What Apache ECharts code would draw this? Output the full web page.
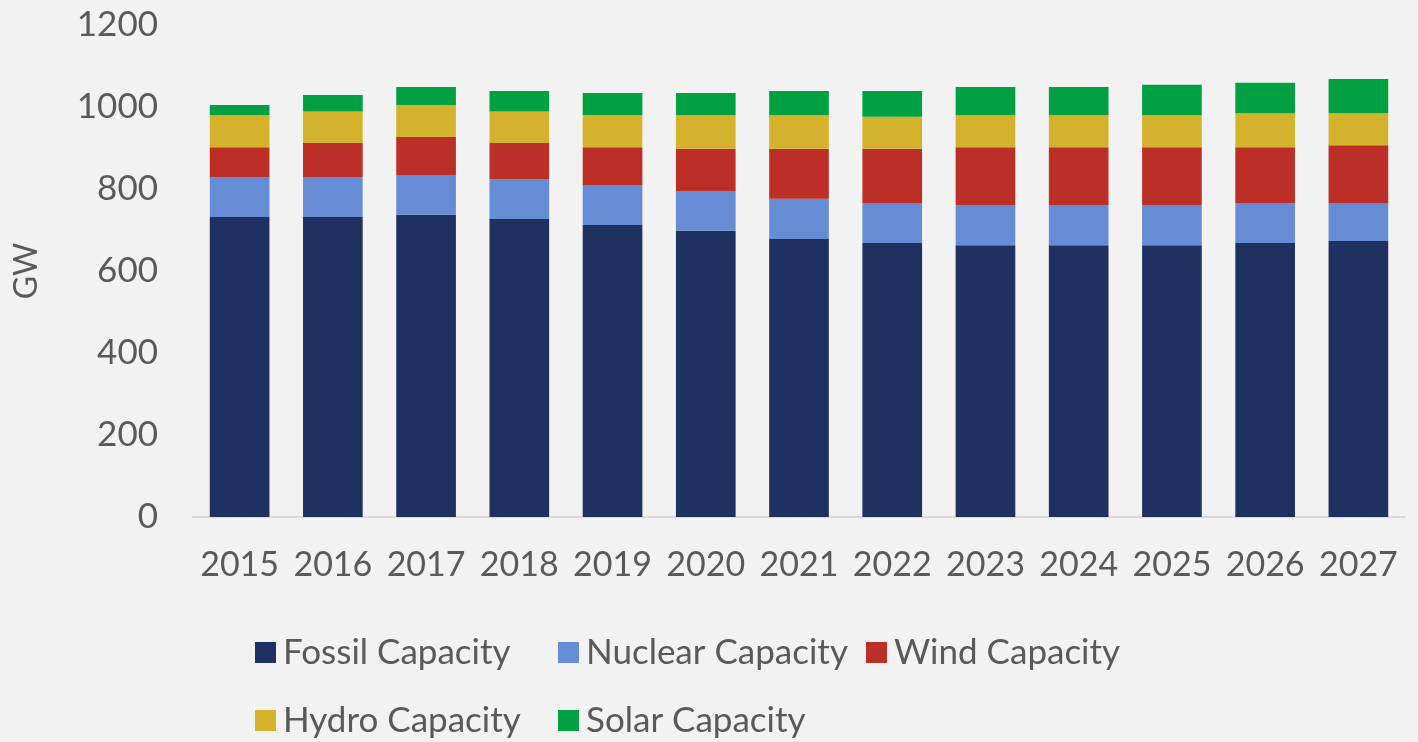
<!DOCTYPE html>
<html>
<head>
<meta charset="utf-8">
<script src="https://cdn.jsdelivr.net/npm/echarts@6/dist/echarts.min.js"></script>
<style>
  html, body { margin: 0; padding: 0; background: #f2f2f2; }
  #chart { width: 1418px; height: 742px; }
</style>
</head>
<body>
<div id="chart"></div>
<script>
// data (GW)
const years = ['2015', '2016', '2017', '2018', '2019', '2020', '2021', '2022', '2023', '2024', '2025', '2026', '2027']
const fossil = [732, 732, 737, 727, 712, 698, 678, 668, 663, 663, 663, 668, 673]
const nuclear = [97, 97, 96, 97, 98, 97, 98, 98, 98, 98, 98, 98, 93]
const wind = [73, 83, 94, 88, 92, 103, 122, 132, 141, 141, 141, 136, 141]
const hydro = [78, 77, 78, 77, 78, 82, 82, 78, 78, 78, 78, 83, 78]
const solar = [25, 40, 44, 50, 54, 54, 59, 63, 69, 69, 74, 74, 83]
const yTicks = [0, 200, 400, 600, 800, 1000, 1200]

const seriesDefs = [
  { name: 'Fossil Capacity', data: fossil, color: '#1f3161' },
  { name: 'Nuclear Capacity', data: nuclear, color: '#678cd6' },
  { name: 'Wind Capacity', data: wind, color: '#bc2f26' },
  { name: 'Hydro Capacity', data: hydro, color: '#d5b22c' },
  { name: 'Solar Capacity', data: solar, color: '#00a142' }
]

const font = 'Lato, "Noto Sans", sans-serif'
const textGray = '#595959'

// legend slots, laid out like the Excel grid
const legendSlots = [
  { left: 250, top: 630 },
  { left: 553, top: 630 },
  { left: 861, top: 630 },
  { left: 250, top: 698 },
  { left: 553, top: 698 }
]

const chart = echarts.init(document.getElementById('chart'))

const option = {
  backgroundColor: '#f2f2f2',
  animation: false,
  grid: { left: 193, right: 13, top: 25, bottom: 225 },
  legend: seriesDefs.map((s, i) => ({
    data: [s.name],
    left: legendSlots[i].left,
    top: legendSlots[i].top,
    icon: 'rect',
    itemWidth: 21,
    itemHeight: 21,
    itemGap: 0,
    textStyle: { fontFamily: font, fontSize: 35, color: textGray, padding: [0, 0, 0, 2] }
  })),
  xAxis: {
    type: 'category',
    data: years,
    axisLine: { lineStyle: { color: '#d9d9d9', width: 2 } },
    axisTick: { show: false },
    axisLabel: { fontFamily: font, fontSize: 34, color: textGray, margin: 31, interval: 0 }
  },
  yAxis: {
    type: 'value',
    min: yTicks[0],
    max: yTicks[yTicks.length - 1],
    interval: yTicks[1] - yTicks[0],
    name: 'GW',
    nameLocation: 'middle',
    nameGap: 150,
    nameRotate: 90,
    nameTextStyle: { fontFamily: font, fontSize: 32, color: textGray },
    axisLine: { show: false },
    axisTick: { show: false },
    splitLine: { show: false },
    axisLabel: {
      fontFamily: font,
      fontSize: 35,
      color: textGray,
      margin: 35,
      formatter: v => String(v)
    }
  },
  series: seriesDefs.map(s => ({
    name: s.name,
    type: 'bar',
    stack: 'total',
    data: s.data,
    barCategoryGap: '36%',
    itemStyle: { color: s.color }
  }))
}

chart.setOption(option)
window.addEventListener('resize', () => chart.resize())
</script>
</body>
</html>
